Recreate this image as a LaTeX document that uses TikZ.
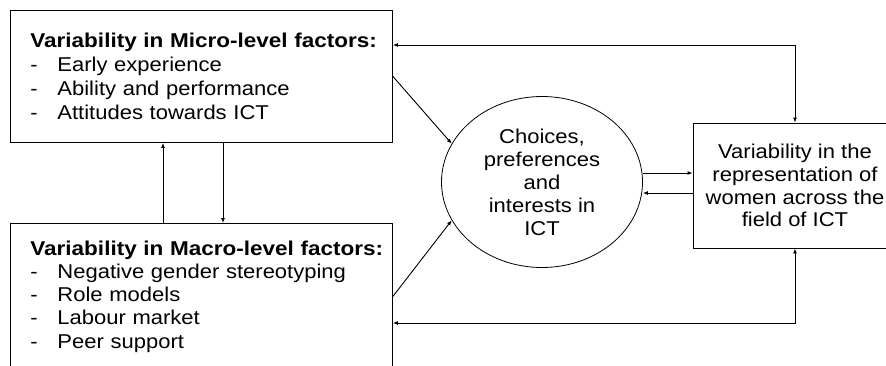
\documentclass[tikz,border=0pt]{standalone}
\usepackage{fontspec}
\setmainfont{Liberation Sans}[FakeStretch=1.1, BoldFeatures={FakeStretch=1.125}]
\usepackage{tikz}
\usetikzlibrary{arrows.meta,shapes.geometric,positioning}
\tikzset{
	factor/.style={draw, line width=0.9pt, inner xsep=20pt, inner ysep=0pt, text width=342pt, align=left, font=\fontsize{20}{24}\selectfont},
	choice/.style={draw, ellipse, line width=0.8pt, inner sep=0pt, align=center, font=\fontsize{20}{23}\selectfont, minimum width=201pt, minimum height=171pt},
	outcome/.style={draw, line width=0.9pt, inner sep=0pt, align=center, font=\fontsize{20}{22.7}\selectfont, minimum width=204pt, minimum height=125pt},
	arr/.style={line width=0.9pt, -{Latex[length=5pt,width=4pt]}},
	twoway/.style={line width=0.9pt, {Latex[length=5pt,width=4pt]}-{Latex[length=5pt,width=4pt]}}
}
\newcommand{\litem}[1]{\makebox[27pt][l]{-}#1}
\newcommand{\ftitle}[1]{\makebox[342pt][l]{\textbf{#1}}}

\begin{document}
\begin{tikzpicture}[x=1pt,y=-1pt]
			\useasboundingbox (0,0) rectangle (886,365);
			\clip (0,0) rectangle (886,365);
			
			\node[factor, minimum height=132pt, anchor=north west] (micro) at (10,10) {%
				\ftitle{Variability in Micro-level factors:}\\
				\litem{Early experience}\\
				\litem{Ability and performance}\\
				\litem{Attitudes towards ICT}};
			\node[factor, font=\fontsize{20}{23.3}\selectfont, minimum height=146pt, anchor=north west] (macro) at (10,223) {%
				\ftitle{Variability in Macro-level factors:}\\
				\litem{Negative gender stereotyping}\\
				\litem{Role models}\\
				\litem{Labour market}\\
				\litem{Peer support}};
			\node[choice] (prefs) at (542,182) {Choices,\\ preferences\\ and\\ interests in\\ ICT};
			\node[outcome] (repr) at (795,185.5) {Variability in the\\ representation of\\ women across the\\ field of ICT};
			
			\coordinate (upx) at (163,0);
			\coordinate (downx) at (223,0);
			\draw[arr] (upx |- macro.north) -- (upx |- micro.south);
			\draw[arr] (downx |- micro.south) -- (downx |- macro.north);
			
			\draw[arr] (micro.east) -- (prefs.157);
			\draw[arr] (macro.east) -- (prefs.203);
			
			\draw[arr] ([yshift=9pt]prefs.east) -- ([yshift=9pt]prefs.east -| repr.west);
			\draw[arr] ([yshift=-11pt]prefs.east -| repr.west) -- ([yshift=-11pt]prefs.east);
			
			% feedback loops
			\draw[twoway] ([yshift=-35pt]micro.north east) -| (repr.north);
			\draw[twoway] ([yshift=-100pt]macro.north east) -| (repr.south);
		\end{tikzpicture}
\end{document}
